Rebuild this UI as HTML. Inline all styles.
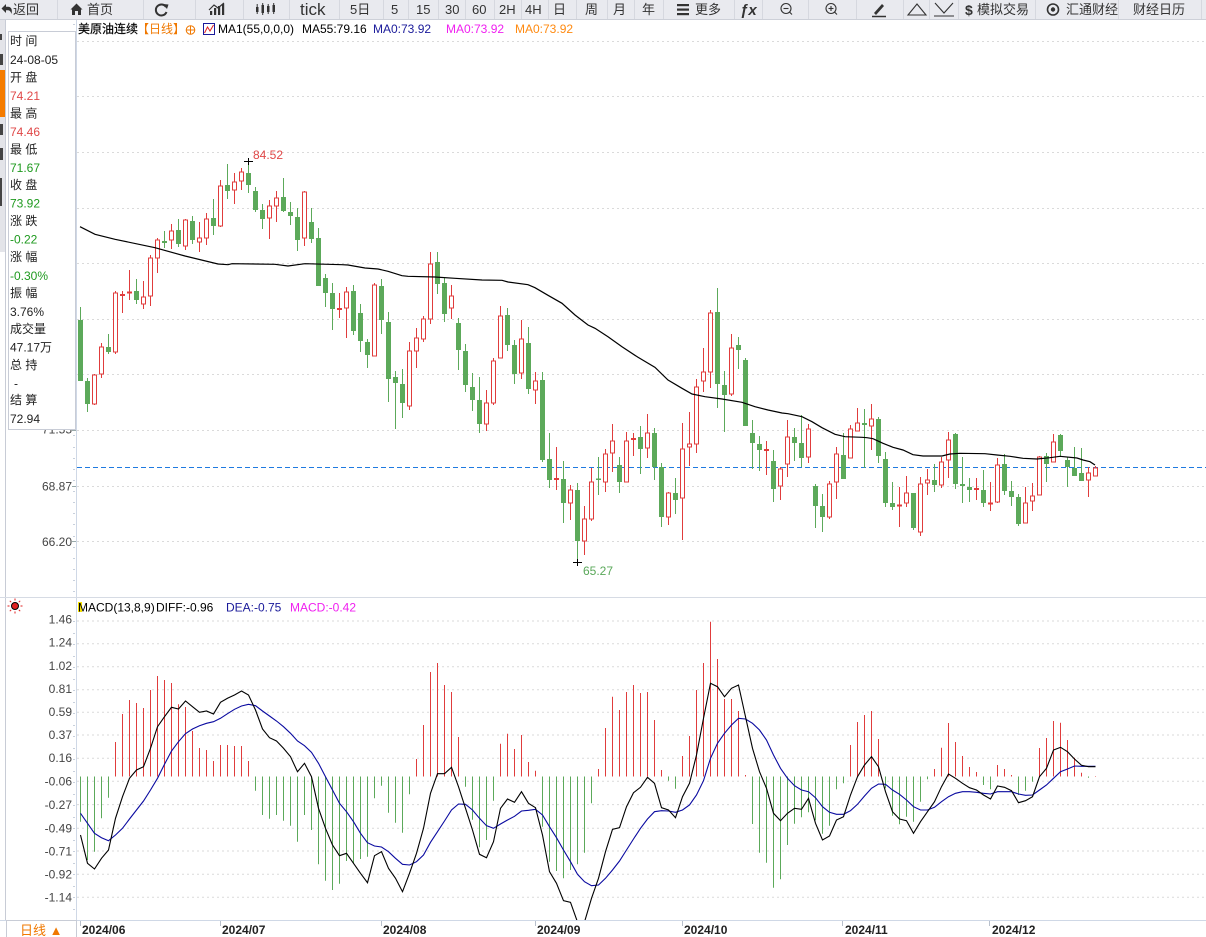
<!DOCTYPE html>
<html><head><meta charset="utf-8"><style>
html,body{margin:0;padding:0;background:#fff;overflow:hidden;}
svg{display:block;}
text{font-family:"Liberation Sans","Noto Sans CJK SC",sans-serif;}
</style></head><body>
<svg id="s" width="1206" height="937" viewBox="0 0 1206 937" xmlns="http://www.w3.org/2000/svg">
<rect x="0" y="0" width="1206" height="937" fill="#fff"/>
<!-- toolbar -->
<rect x="0" y="0" width="1206" height="19" fill="#e9eaef"/>
<line x1="0" y1="19.5" x2="1206" y2="19.5" stroke="#cdd0d8"/>
<g stroke="#d6d8df" stroke-width="1">
<line x1="57.5" y1="0" x2="57.5" y2="19"/><line x1="143.5" y1="0" x2="143.5" y2="19"/><line x1="195.5" y1="0" x2="195.5" y2="19"/><line x1="243.5" y1="0" x2="243.5" y2="19"/><line x1="289.5" y1="0" x2="289.5" y2="19"/><line x1="339.5" y1="0" x2="339.5" y2="19"/><line x1="383.5" y1="0" x2="383.5" y2="19"/><line x1="408.5" y1="0" x2="408.5" y2="19"/><line x1="438.5" y1="0" x2="438.5" y2="19"/><line x1="465.5" y1="0" x2="465.5" y2="19"/><line x1="494.5" y1="0" x2="494.5" y2="19"/><line x1="521.5" y1="0" x2="521.5" y2="19"/><line x1="548.5" y1="0" x2="548.5" y2="19"/><line x1="576.5" y1="0" x2="576.5" y2="19"/><line x1="607.5" y1="0" x2="607.5" y2="19"/><line x1="634.5" y1="0" x2="634.5" y2="19"/><line x1="663.5" y1="0" x2="663.5" y2="19"/><line x1="734.5" y1="0" x2="734.5" y2="19"/><line x1="762.5" y1="0" x2="762.5" y2="19"/><line x1="808.5" y1="0" x2="808.5" y2="19"/><line x1="856.5" y1="0" x2="856.5" y2="19"/><line x1="903.5" y1="0" x2="903.5" y2="19"/><line x1="929.5" y1="0" x2="929.5" y2="19"/><line x1="958.5" y1="0" x2="958.5" y2="19"/><line x1="1035.5" y1="0" x2="1035.5" y2="19"/><line x1="1118.5" y1="0" x2="1118.5" y2="19"/><line x1="1201.5" y1="0" x2="1201.5" y2="19"/>
</g>
<g fill="#333">
<path d="M1.5 8.5 L6 4 V6.8 H8 C11.5 6.8 12.5 10 11.5 14 C10.8 11.5 9.8 10.2 7.6 10.2 H6 V13 Z"/>
<path d="M70.5 9.5 L76.5 3.5 L82.5 9.5 L81 9.5 L81 15 L78 15 L78 11 L75 11 L75 15 L72 15 L72 9.5 Z"/>
<rect x="210" y="11" width="2.2" height="4"/><rect x="214" y="8" width="2.2" height="7"/><rect x="218" y="6" width="2.2" height="9"/><rect x="222" y="4" width="2.2" height="11"/>
<rect x="256" y="7" width="2.5" height="5"/><rect x="261.5" y="5" width="2.5" height="8"/><rect x="267" y="6" width="2.5" height="6"/><rect x="272.5" y="5" width="2.5" height="7"/>
<rect x="677" y="4" width="12" height="2.2"/><rect x="677" y="8.5" width="12" height="2.2"/><rect x="677" y="13" width="12" height="2.2"/>
</g>
<path d="M209 10 L214 5 L218 8 L224 3" stroke="#333" stroke-width="1.2" fill="none"/>
<g stroke="#333" stroke-width="1"><line x1="257.2" y1="4" x2="257.2" y2="14"/><line x1="262.7" y1="3" x2="262.7" y2="15"/><line x1="268.2" y1="4" x2="268.2" y2="14"/><line x1="273.7" y1="3" x2="273.7" y2="14"/></g>
<path d="M166 7 A5.5 5.5 0 1 0 166.5 12" stroke="#333" stroke-width="2" fill="none"/>
<path d="M163 4 L168.5 4.5 L167 9 Z" fill="#333"/>
<g fill="none" stroke="#333" stroke-width="1.1">
<circle cx="786" cy="8.5" r="5"/><line x1="789.5" y1="12" x2="792" y2="14.5"/><line x1="783.5" y1="8.5" x2="788.5" y2="8.5"/>
<circle cx="831" cy="8.5" r="5"/><line x1="834.5" y1="12" x2="837" y2="14.5"/><line x1="828.5" y1="8.5" x2="833.5" y2="8.5"/><line x1="831" y1="6" x2="831" y2="11"/>
<path d="M908 15 L917 4 L926 15 Z"/>
<path d="M935 3 L944 13 L953 3"/><line x1="934" y1="16" x2="954" y2="16"/>
</g>
<path d="M874 13 L882 4 L884 6 L876 15 Z" fill="#333"/><line x1="872" y1="16.5" x2="886" y2="16.5" stroke="#333" stroke-width="1.5"/>
<circle cx="1053" cy="9.5" r="5.5" fill="none" stroke="#333" stroke-width="1.6"/><circle cx="1053" cy="9.5" r="2.2" fill="#333"/>
<g fill="#333" font-size="13">
<text x="13" y="14">返回</text><text x="87" y="14">首页</text>
<text x="300" y="15" font-size="17">tick</text>
<text x="350" y="14">5日</text><text x="391" y="14">5</text><text x="416" y="14">15</text><text x="445" y="14">30</text><text x="472" y="14">60</text><text x="499" y="14">2H</text><text x="525" y="14">4H</text><text x="553" y="14">日</text><text x="585" y="14">周</text><text x="613" y="14">月</text><text x="642" y="14">年</text>
<text x="695" y="14">更多</text>
<text x="740" y="15" font-size="15" font-style="italic" font-weight="bold" font-family="Liberation Serif, serif">ƒx</text>
<text x="965" y="15" font-weight="bold" font-size="14">$</text><text x="977" y="14">模拟交易</text>
<text x="1066" y="14">汇通财经</text><text x="1133" y="14">财经日历</text>
</g>

<!-- left strip -->
<rect x="0" y="20" width="5.5" height="232" fill="#e3e4e9"/>
<rect x="0" y="70" width="6" height="47" fill="#f57c00"/>
<g fill="#444"><rect x="0" y="34" width="2" height="6"/><rect x="0" y="54" width="3" height="11"/><rect x="0" y="124" width="3" height="11"/><rect x="0" y="148" width="3" height="12"/><rect x="0" y="178" width="2" height="28"/></g>
<line x1="5.5" y1="20" x2="5.5" y2="920" stroke="#c8ccd6"/>

<!-- main grid -->
<g stroke="#dadada" stroke-dasharray="2,3">
<line x1="77" y1="41.5" x2="1206" y2="41.5"/><line x1="77" y1="96.5" x2="1206" y2="96.5"/><line x1="77" y1="152.5" x2="1206" y2="152.5"/><line x1="77" y1="208.5" x2="1206" y2="208.5"/><line x1="77" y1="263.5" x2="1206" y2="263.5"/><line x1="77" y1="319.5" x2="1206" y2="319.5"/><line x1="77" y1="374.5" x2="1206" y2="374.5"/><line x1="77" y1="430.5" x2="1206" y2="430.5"/><line x1="77" y1="486.5" x2="1206" y2="486.5"/><line x1="77" y1="541.5" x2="1206" y2="541.5"/>
</g>
<line x1="77" y1="467.5" x2="1206" y2="467.5" stroke="#1f7ae0" stroke-dasharray="5,3"/>

<g id="cd"></g>
<polyline id="ma" fill="none" stroke="#000" stroke-width="1.2" points="80,226.7 95,234.3 115,239.3 155,247.7 185,256 218,264 228,264.7 232,263.7 275,264.3 288,266 305,263.7 342,264.7 348,265 365,268 378,269 388,271.3 402,275.7 408,276.3 435,277 455,278.3 482,280 502,280.3 508,282 528,284.7 535,287.7 548,295.3 562,303.3 575,315 588,325 595,328.3 608,336.7 622,346.7 638,357.3 655,367.3 668,380 682,388.3 692,394 705,396.7 722,399 742,402.3 755,406.7 768,410 782,413 788,413.7 802,416.7 812,421.7 822,427.7 835,434.3 845,436.7 862,437.3 867,437.7 873,438.7 883,443.3 893,447.3 903,450 913,454.7 923,456 942,456 950,454 960,453.3 985,453.7 997,455 1010,456.3 1023,458.3 1037,459 1050,457.7 1060,456.3 1077,458 1083,460 1090,461.7 1095,465"/>

<!-- hi/lo markers -->
<g stroke="#000" stroke-width="1"><line x1="244" y1="161.5" x2="253" y2="161.5"/><line x1="248.5" y1="158" x2="248.5" y2="165"/><line x1="573" y1="562.5" x2="582" y2="562.5"/><line x1="577.5" y1="559" x2="577.5" y2="566"/></g>
<text x="253" y="159" font-size="12" fill="#e04848">84.52</text>
<text x="583" y="575" font-size="12" fill="#5aa85a">65.27</text>

<!-- y axis -->
<line x1="76.5" y1="20" x2="76.5" y2="920" stroke="#cfd8e6"/>
<g id="mt" stroke="#c8d0dc"></g>
<g font-size="12" fill="#444" text-anchor="end">
<text x="72" y="433.5">71.55</text><text x="72" y="490.5">68.87</text><text x="72" y="546">66.20</text>
</g>
<g stroke="#9aa" ><line x1="72" y1="430.5" x2="76" y2="430.5"/><line x1="72" y1="486.5" x2="76" y2="486.5"/><line x1="72" y1="541.5" x2="76" y2="541.5"/></g>

<!-- info box -->
<rect x="8.5" y="31.5" width="67" height="398" fill="#fff" stroke="#c8ccd6"/>
<g font-size="12" fill="#222">
<text x="10" y="45">时 间</text>
<text x="10" y="64">24-08-05</text>
<text x="10" y="81.5">开 盘</text>
<text x="10" y="100" fill="#e04848">74.21</text>
<text x="10" y="117.5">最 高</text>
<text x="10" y="136" fill="#e04848">74.46</text>
<text x="10" y="153.5">最 低</text>
<text x="10" y="172" fill="#1f9a1f">71.67</text>
<text x="10" y="189">收 盘</text>
<text x="10" y="207.5" fill="#1f9a1f">73.92</text>
<text x="10" y="225">涨 跌</text>
<text x="10" y="243.5" fill="#1f9a1f">-0.22</text>
<text x="10" y="261">涨 幅</text>
<text x="10" y="280" fill="#1f9a1f">-0.30%</text>
<text x="10" y="297">振 幅</text>
<text x="10" y="316">3.76%</text>
<text x="10" y="333">成交量</text>
<text x="10" y="351.5">47.17万</text>
<text x="10" y="369">总 持</text>
<text x="14" y="387.5">-</text>
<text x="10" y="404">结 算</text>
<text x="10" y="423">72.94</text>
</g>

<!-- title row -->
<g font-size="12">
<text x="78" y="33" fill="#000" stroke="#000" stroke-width="0.2">美原油连续</text>
<text x="137" y="33" fill="#f07800">【日线】</text>
<text x="373" y="33" fill="#1a1a9a">MA0:73.92</text>
<text x="446" y="33" fill="#f020f0">MA0:73.92</text>
<text x="515" y="33" fill="#ff8a10">MA0:73.92</text>
<text x="218" y="33" fill="#000">MA1(55,0,0,0)</text>
<text x="302" y="33" fill="#000">MA55:79.16</text>
</g>
<circle cx="190.5" cy="30" r="4.3" fill="none" stroke="#f07800"/><line x1="186" y1="30" x2="195" y2="30" stroke="#f07800"/><line x1="190.5" y1="25.5" x2="190.5" y2="34.5" stroke="#f07800"/>
<rect x="203.5" y="23.5" width="11" height="11" fill="#fff" stroke="#1a1a9a"/><path d="M204.5 33 L207.5 27 L210 31 L213.5 25" stroke="#e02020" fill="none"/>

<!-- MACD panel -->
<line x1="0" y1="597.5" x2="1206" y2="597.5" stroke="#d6dbe4"/>
<g stroke="#dadada" stroke-dasharray="2,3">
<line x1="77" y1="621" x2="1206" y2="621"/><line x1="77" y1="643.7" x2="1206" y2="643.7"/><line x1="77" y1="666.7" x2="1206" y2="666.7"/><line x1="77" y1="689.7" x2="1206" y2="689.7"/><line x1="77" y1="712.3" x2="1206" y2="712.3"/><line x1="77" y1="735" x2="1206" y2="735"/><line x1="77" y1="758.3" x2="1206" y2="758.3"/><line x1="77" y1="781.3" x2="1206" y2="781.3"/><line x1="77" y1="804.6" x2="1206" y2="804.6"/><line x1="77" y1="828.3" x2="1206" y2="828.3"/><line x1="77" y1="851" x2="1206" y2="851"/><line x1="77" y1="874.3" x2="1206" y2="874.3"/><line x1="77" y1="897.3" x2="1206" y2="897.3"/>
</g>
<g font-size="12" fill="#444" text-anchor="end">
<text x="72" y="623.5">1.46</text><text x="72" y="646.5">1.24</text><text x="72" y="670">1.02</text><text x="72" y="693">0.81</text><text x="72" y="716">0.59</text><text x="72" y="739">0.37</text><text x="72" y="762">0.16</text><text x="72" y="785.5">-0.06</text><text x="72" y="809">-0.27</text><text x="72" y="832.5">-0.49</text><text x="72" y="855.5">-0.71</text><text x="72" y="878.5">-0.92</text><text x="72" y="901.5">-1.14</text>
</g>
<g id="mb"></g>
<clipPath id="cp"><rect x="77" y="598" width="1129" height="322"/></clipPath>
<g clip-path="url(#cp)">
<polyline id="dea" fill="none" stroke="#0a0aa0" stroke-width="1.1"/>
<polyline id="dif" fill="none" stroke="#000" stroke-width="1.1"/>
</g>
<!-- MACD header -->
<g>
<circle cx="15" cy="606" r="3.5" fill="#e02020" stroke="#000" stroke-width="1"/>
<g stroke="#e02020" stroke-width="1"><line x1="15" y1="598.5" x2="15" y2="600.5"/><line x1="15" y1="611.5" x2="15" y2="613.5"/><line x1="7.5" y1="606" x2="9.5" y2="606"/><line x1="20.5" y1="606" x2="22.5" y2="606"/><line x1="9.8" y1="600.8" x2="11.2" y2="602.2"/><line x1="18.8" y1="609.8" x2="20.2" y2="611.2"/><line x1="20.2" y1="600.8" x2="18.8" y2="602.2"/><line x1="11.2" y1="609.8" x2="9.8" y2="611.2"/></g>
</g>
<rect x="78" y="602" width="4" height="10" fill="#f5e000"/>
<g font-size="12">
<text x="78" y="611.5" fill="#000">MACD(13,8,9)</text>
<text x="156" y="611.5" fill="#000">DIFF:-0.96</text>
<text x="226" y="611.5" fill="#1a1a9a">DEA:-0.75</text>
<text x="290" y="611.5" fill="#f020f0">MACD:-0.42</text>
</g>

<!-- x axis -->
<line x1="0" y1="920.5" x2="1206" y2="920.5" stroke="#cfd8e6"/>
<rect x="6.5" y="920.5" width="70" height="17" fill="#fff" stroke="#c8ccd6"/>
<text x="20" y="935" font-size="13" fill="#f07800">日线 ▲</text>
<g stroke="#b8c0cc"><line x1="80.5" y1="921" x2="80.5" y2="926"/><line x1="220.5" y1="921" x2="220.5" y2="926"/><line x1="381.5" y1="921" x2="381.5" y2="926"/><line x1="535.5" y1="921" x2="535.5" y2="926"/><line x1="682.5" y1="921" x2="682.5" y2="926"/><line x1="842.5" y1="921" x2="842.5" y2="926"/><line x1="989.5" y1="921" x2="989.5" y2="926"/></g>
<g font-size="12" fill="#222" font-weight="bold">
<text x="82" y="934">2024/06</text><text x="222" y="934">2024/07</text><text x="383" y="934">2024/08</text><text x="537" y="934">2024/09</text><text x="684" y="934">2024/10</text><text x="845" y="934">2024/11</text><text x="992" y="934">2024/12</text>
</g>
</svg>
<script>
(function(){
var C=[
[320,381,307,381,0],[381,404,378,412,0],[375,404,374,405,1],[347,374,343,378,1],[347,352,334,354,0],[293,352,291,354,1],[294.5,296,291,313,1],[292,293.5,270,300,1],[291,300,279,304,0],[297,304,281,309,1],
[258,296,255,306,1],[240,258,238,273,1],[241,243,231,248,0],[231,240,224,249,1],[230,244,219,247,0],[220,246,219,250,1],[221,240,216,244,0],[238,242,222,252,1],[219,238,213,245,1],[218,226,199,235,0],
[186,226,180,227,1],[185,191,164,199,0],[182,190,173,204,1],[172,181,168,190,1],[173,185,161,193,0],[191,210,187,212,0],[210,219,204,229,0],[206,218,200,239,1],[198,206,191,222,1],[197,211,178,212,0],
[212,216,202,225,0],[217,240,208,251,0],[192,238,191,246,1],[222,239,208,243,0],[238,286,228,286,0],[278,293,274,307,0],[293,309,283,330,0],[308.5,310,293,318,1],[292,308,287,338,1],[291,331,285,335,0],
[313,341,304,352,0],[342,355,339,368,0],[285,356,283,356,1],[286,320,279,334,0],[322,379,312,402,0],[377,383,371,429,0],[384,403,369,418,0],[351,406,342,410,1],[338,351,328,368,1],[319,339,316,342,1],
[264,319,252,324,1],[262,284,252,294,0],[283,314,278,322,0],[296,308,285,319,1],[323,350,318,370,0],[351,385,344,392,0],[387,400,373,411,0],[400,424,377,433,0],[403,424,390,431,1],[361,403,358,405,1],
[316,358,306,358,1],[315,345,308,351,0],[345,374,340,384,0],[339,373,320,379,1],[343,389,327,394,0],[381,390,372,404,1],[380,460,372,462,0],[459,480,433,488,0],[478.5,480,447,490,1],[479,503,461,523,0],
[490,503,485,520,1],[490,541,483,562,0],[519,541,506,555,1],[482,519,468,521,1],[478.5,480,457,495,0],[454,482,449,492,1],[441,453,424,472,1],[465,482,457,493,0],[441,482,432,482,1],[438.5,440,433,456,1],
[437,449,426,474,0],[433,448,414,458,1],[433,467,428,480,0],[467,517,463,527,0],[493,517,492,525,1],[493,500,478,514,0],[449,498,423,540,1],[444,447,412,466,1],[387,444,379,453,1],[372,381,348,392,1],
[313,372,310,388,1],[312,384,288,408,0],[385,395,371,432,0],[348,394,334,396,1],[345,350,337,369,0],[360,426,358,426,0],[433,443,420,469,0],[444,450,436,471,0],[449.5,451,441,475,1],[461,489,450,502,0],
[469,486,467,500,1],[437,464,420,477,1],[437,443,428,461,0],[443,458,415,467,0],[429,457,424,463,1],[486,506,484,528,0],[506,517,494,532,0],[484,517,481,519,1],[454,482,447,499,1],[455,479,433,479,0],
[429,458,425,458,1],[423,431,408,431,1],[423,425,409,468,0],[419,426,404,450,1],[419,456,417,463,0],[459,503,452,507,0],[503,507,482,510,0],[505,506.5,487,527,1],[493,503,476,507,1],[493,528,493,530,0],
[484,532,477,536,1],[480,483,469,495,1],[480,485,464,492,0],[462,485,457,488,1],[440,460,432,478,1],[434,484,433,489,0],[484,486,457,503,0],[487,490,478,502,0],[488.5,490,478,500,1],[490,503,470,507,0],
[503,505,482,511,1],[465,502,458,503,1],[464,491,454,495,0],[491,497,481,506,0],[497,524,494,526,0],[503,523,487,523,1],[496,501,483,511,1],[457,495,456,495,1],[456,464,453,482,0],[442,462,434,462,1],
[435,451,434,457,0],[460,467,457,487,0],[468,476,447,476,0],[473,481,448,481,0],[473,480,467,497,1],[468,476,466,476,1]];
var D=[835,863.3,869,858.3,850,818.3,796.7,778.3,770,766.7,748.3,726.7,716.7,707.3,709,701,706.7,712.3,711,714,702.3,698.3,695,691,695,710,729,737.7,741,748.3,756.7,771.7,763.3,776.7,808.3,828.3,845,855.7,853.3,863.3,873.3,882.7,855.7,851.7,868.3,878.3,891.7,873.3,853.3,828.3,793.3,773.7,773.7,767.3,786.7,808.3,830,854.3,857.7,841.7,808.3,799,802.3,791.7,803.3,807.7,835,871.7,883.3,900.7,902.3,922,922,898.3,878.3,851.7,829.3,827.7,806.7,792.7,787.3,777.3,783.3,807.7,810,817.7,796.7,783.3,755,718.3,683.3,686.7,696.7,688.3,685,716.7,748.3,771.7,788.3,813.3,820.7,813.3,808.3,809.3,798.3,823.3,840,836,820,816.7,795,776.7,765,756.7,766.7,791.7,811.7,819,820.7,833.3,821.7,811.7,801.7,786.7,774,778.3,783.3,787.7,790,795,799,786,787.3,790.7,802.7,800.7,796.7,776.7,768.3,750,747.3,751.7,759,765.3,766.7,766.7];
var E=[813.3,823.3,833.3,837.7,840.7,835,828.3,819,810,801,790,778.3,764.3,751,741.7,733.7,729,725.7,723.3,721.7,718.3,713.7,709.3,706,704.3,705.7,711,716,721,726.7,733.3,741,745.7,752.3,763.3,776.7,790,803.3,811.7,821.7,833.3,842.7,846,847,851.7,858.3,864.3,865,861.7,855,842.3,831.7,821,810,804,804.3,810,818.3,825.7,828.3,824,820,816.3,811,810.3,809.3,815,826.7,837.7,850,861.7,874.3,881.7,885.7,885,878.3,870,861,850,839,828.3,819,811.7,810.7,811,812.3,810,805,795,780.7,758.3,743.3,733.3,725,718.3,719,723.3,730,740,755,768.3,778.3,785.7,790,791.7,797.7,806.7,812.3,814.3,814.3,810.7,804.3,796,788.3,784,784.3,790,794.3,800,806.7,810,810,807.3,801.7,796.7,793.3,791.7,791.7,792.3,793.3,794,791.7,791.7,791.7,794,795.3,795,790,785,778.3,771.7,769,766,766.3,766.3,766.3];
var M=[821.7,860,851.7,818.3,797.7,742,714,700,703,708,690,676,680,683,704.3,707,731,748,750,761,745,745,746,746,761,790.7,815,818.7,815,820.7,825.7,841.7,815,830,864.3,880.7,890,883.7,861,863.3,859,856.7,798.3,785.7,812.7,822.7,832.7,794.3,759,725,672,663,685,692,737,786.7,819.7,847.3,840,800.7,743.7,733.7,749,735,762,770.7,826.7,861.7,871,878.3,870,864.3,852.7,803.3,769,728,696.7,710,692,685,693,692,720,770,780.7,788.7,756,736,690,663,621.7,659,699,699,711,775,824,852.7,862.7,887.7,879.3,845,823.7,817.3,812.3,820.3,833.7,825.7,789.3,783.3,745,722,715,711,739,788.3,815.7,824.3,816.7,821.7,801.7,779.3,769,747.7,723,742,756,767,772,785,789.3,765,769,775,795,790.7,781.7,748,738,721,722.7,740,757.7,772.7,777.7,776];
var R='#e03c3c',G='#5ca95a',h='';
C.forEach(function(c,i){
 var cx=80.5+7*i,bt=c[0],bb=c[1],wt=c[2],wb=c[3];
 if(c[4]){
  if(bb-bt<2.5){
   h+='<line x1="'+cx+'" y1="'+wt+'" x2="'+cx+'" y2="'+wb+'" stroke="'+R+'"/><rect x="'+(cx-2.5)+'" y="'+(bt-0.5)+'" width="5" height="2" fill="'+R+'"/>';
  }else{
   h+='<line x1="'+cx+'" y1="'+wt+'" x2="'+cx+'" y2="'+bt+'" stroke="'+R+'"/><line x1="'+cx+'" y1="'+bb+'" x2="'+cx+'" y2="'+wb+'" stroke="'+R+'"/><rect x="'+(cx-2)+'" y="'+bt+'" width="4" height="'+(bb-bt)+'" fill="#fff" stroke="'+R+'"/>';
  }
 }else{
  h+='<line x1="'+cx+'" y1="'+wt+'" x2="'+cx+'" y2="'+wb+'" stroke="'+G+'"/><rect x="'+(cx-2.5)+'" y="'+bt+'" width="5" height="'+Math.max(bb-bt,1.5)+'" fill="'+G+'"/>';
 }
});
document.getElementById('cd').innerHTML=h;
var b='';
M.forEach(function(v,k){
 var cx=80.5+7*k;
 if(v<776.5){b+='<line x1="'+cx+'" y1="776.5" x2="'+cx+'" y2="'+v+'" stroke="'+R+'"/>';}
 else{b+='<line x1="'+cx+'" y1="776.5" x2="'+cx+'" y2="'+Math.max(v,777.5)+'" stroke="'+G+'"/>';}
});
document.getElementById('mb').innerHTML=b;
var pd=[],pe=[];
for(var k=0;k<146;k++){pd.push((80.5+7*k)+','+D[k]);pe.push((80.5+7*k)+','+E[k]);}
document.getElementById('dif').setAttribute('points',pd.join(' '));
document.getElementById('dea').setAttribute('points',pe.join(' '));
var t='';
for(var y=24;y<595;y+=11.12){t+='<line x1="73" y1="'+(Math.round(y)+0.5)+'" x2="75" y2="'+(Math.round(y)+0.5)+'"/>';}
for(var y2=621;y2<918;y2+=11.5){t+='<line x1="73" y1="'+(Math.round(y2)+0.5)+'" x2="75" y2="'+(Math.round(y2)+0.5)+'"/>';}
document.getElementById('mt').innerHTML=t;
})();
</script>
</body></html>
